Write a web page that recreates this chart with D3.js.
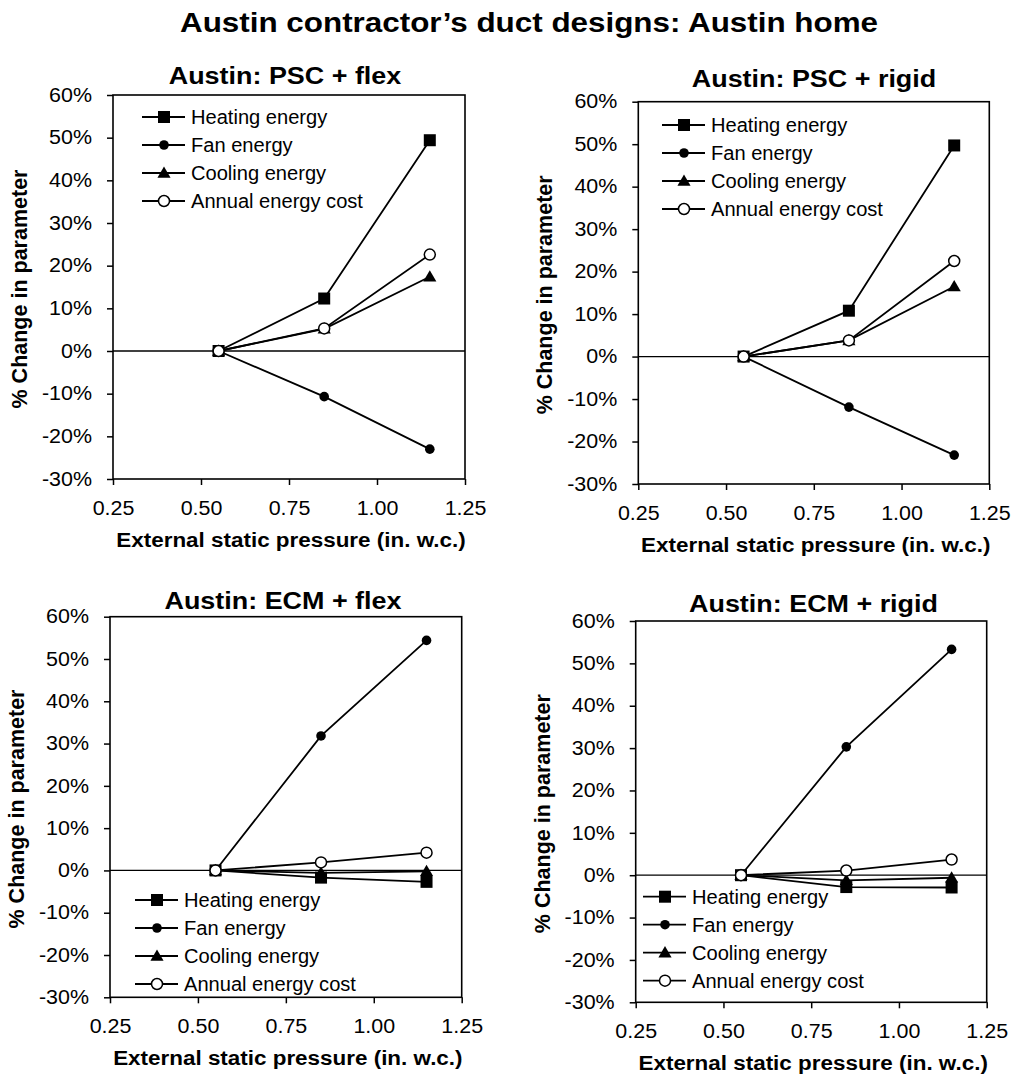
<!DOCTYPE html>
<html>
<head>
<meta charset="utf-8">
<script src="https://cdn.jsdelivr.net/npm/d3@7"></script>
<style>
  html, body { margin: 0; padding: 0; background: #fff; }
  svg { display: block; }
  text { font-family: "Liberation Sans", Arial, Helvetica, sans-serif; fill: #000; }
</style>
</head>
<body>
<svg id="chart" width="1013" height="1076"></svg>
<script>
// ---------------- DATA ----------------
const mainTitle = "Austin contractor’s duct designs: Austin home";
const panelTitles = ["Austin: PSC + flex", "Austin: PSC + rigid", "Austin: ECM + flex", "Austin: ECM + rigid"];
const seriesNames = ["Heating energy", "Fan energy", "Cooling energy", "Annual energy cost"];
const xValues = [0.55, 0.85, 1.15];            // external static pressure (in. w.c.)
const xTicks = [0.25, 0.50, 0.75, 1.00, 1.25];
const yTicks = [-30, -20, -10, 0, 10, 20, 30, 40, 50, 60];
const xLabel = "External static pressure (in. w.c.)";
const yLabel = "% Change in parameter";

// % change; rows follow seriesNames order
const pscFlexValues = [
  [0, 12.3, 49.4],
  [0, -10.7, -23.0],
  [0, 5.2, 17.4],
  [0, 5.3, 22.6]
];
const pscRigidValues = [
  [0, 10.8, 49.7],
  [0, -11.9, -23.2],
  [0, 3.8, 16.5],
  [0, 3.8, 22.5]
];
const ecmFlexValues = [
  [0, -1.7, -2.7],
  [0, 31.8, 54.4],
  [0, -0.6, -0.2],
  [0, 1.9, 4.2]
];
const ecmRigidValues = [
  [0, -2.8, -2.9],
  [0, 30.3, 53.3],
  [0, -1.2, -0.6],
  [0, 1.1, 3.7]
];
const panelValues = [pscFlexValues, pscRigidValues, ecmFlexValues, ecmRigidValues];

// ---------------- LAYOUT ----------------
const panelBoxes = [
  {left: 113,   right: 465,   top: 95,    bottom: 479,    legX: 142, legY: 117},
  {left: 638.3, right: 989.3, top: 101.7, bottom: 484,    legX: 662, legY: 125},
  {left: 110,   right: 461.7, top: 616.7, bottom: 997.3,  legX: 135, legY: 900},
  {left: 635.7, right: 986.7, top: 621,   bottom: 1002.3, legX: 643, legY: 896.7}
];
const titleCenters = [[285, 83.5], [814, 87], [283, 608.5], [813.5, 612]];
const markerTypes = ["square", "circle", "triangle", "open"];

const svg = d3.select("#chart");

function stretch(sel, k) {
  sel.each(function() {
    const w = this.getComputedTextLength();
    d3.select(this).attr("textLength", w * k).attr("lengthAdjust", "spacingAndGlyphs");
  });
}

function drawMarker(g, type, cx, cy) {
  if (type === "square") {
    g.append("rect").attr("x", cx - 6).attr("y", cy - 6).attr("width", 12).attr("height", 12)
      .attr("fill", "#000");
  } else if (type === "circle") {
    g.append("circle").attr("cx", cx).attr("cy", cy).attr("r", 4.8).attr("fill", "#000");
  } else if (type === "triangle") {
    g.append("path").attr("d", d3.symbol().type(d3.symbolTriangle).size(75)())
      .attr("transform", `translate(${cx},${cy + 1})`).attr("fill", "#000");
  } else {
    g.append("circle").attr("cx", cx).attr("cy", cy).attr("r", 5.5)
      .attr("fill", "#fff").attr("stroke", "#000").attr("stroke-width", 1.5);
  }
}

// main title
const mt = svg.append("text").attr("x", 529).attr("y", 31.5).attr("text-anchor", "middle")
  .attr("font-size", 28).attr("font-weight", "bold").text(mainTitle);
mt.attr("textLength", 698).attr("lengthAdjust", "spacingAndGlyphs");

panelBoxes.forEach((b, i) => {
  const x = d3.scaleLinear().domain([0.25, 1.25]).range([b.left, b.right]);
  const y = d3.scaleLinear().domain([-30, 60]).range([b.bottom, b.top]);
  const g = svg.append("g");

  // panel title
  const t = g.append("text").attr("x", titleCenters[i][0]).attr("y", titleCenters[i][1])
    .attr("text-anchor", "middle").attr("font-size", 23).attr("font-weight", "bold").text(panelTitles[i]);
  stretch(t, 1.17);

  // axes
  const ya = g.append("g").attr("transform", `translate(${b.left},0)`)
    .call(d3.axisLeft(y).tickValues(yTicks).tickSize(6).tickSizeOuter(0).tickPadding(15)
      .tickFormat(d => d + "%"));
  const xa = g.append("g").attr("transform", `translate(0,${b.bottom})`)
    .call(d3.axisBottom(x).tickValues(xTicks).tickSize(6).tickSizeOuter(0).tickPadding(16)
      .tickFormat(d3.format(".2f")));
  [ya, xa].forEach(a => {
    a.select(".domain").remove();
    a.selectAll("line").attr("stroke", "#000").attr("stroke-width", 1.5);
    a.selectAll("text").attr("font-size", 19.5).attr("font-family", null).attr("fill", "#000");
    stretch(a.selectAll("text"), 1.1);
  });

  // frame
  g.append("rect").attr("x", b.left).attr("y", b.top)
    .attr("width", b.right - b.left).attr("height", b.bottom - b.top)
    .attr("fill", "none").attr("stroke", "#000").attr("stroke-width", 1.6);

  // zero line
  g.append("line").attr("x1", b.left).attr("x2", b.right).attr("y1", y(0)).attr("y2", y(0))
    .attr("stroke", "#000").attr("stroke-width", 1.3);

  // axis labels
  const xl = g.append("text").attr("x", (b.left + b.right) / 2 + 2).attr("y", b.bottom + 68)
    .attr("text-anchor", "middle").attr("font-size", 19.5).attr("font-weight", "bold").text(xLabel);
  stretch(xl, 1.15);
  g.append("text").attr("transform", `translate(${b.left - 86},${(b.top + b.bottom) / 2 + 2}) rotate(-90)`)
    .attr("text-anchor", "middle").attr("font-size", 21.5).attr("font-weight", "bold").text(yLabel);

  // series
  const line = d3.line().x((d, j) => x(xValues[j])).y(d => y(d));
  panelValues[i].forEach((vals, s) => {
    const sg = g.append("g");
    sg.append("path").attr("d", line(vals)).attr("fill", "none")
      .attr("stroke", "#000").attr("stroke-width", 1.8);
    vals.forEach((v, j) => drawMarker(sg, markerTypes[s], x(xValues[j]), y(v)));
  });

  // legend
  seriesNames.forEach((name, s) => {
    const ly = b.legY + s * 28;
    const lg = g.append("g");
    lg.append("line").attr("x1", b.legX).attr("x2", b.legX + 43).attr("y1", ly).attr("y2", ly)
      .attr("stroke", "#000").attr("stroke-width", 1.8);
    drawMarker(lg, markerTypes[s], b.legX + 22, ly);
    const lt = lg.append("text").attr("x", b.legX + 49).attr("y", ly + 7).attr("font-size", 19.5).text(name);
    stretch(lt, 1.03);
  });
});
</script>
</body>
</html>
